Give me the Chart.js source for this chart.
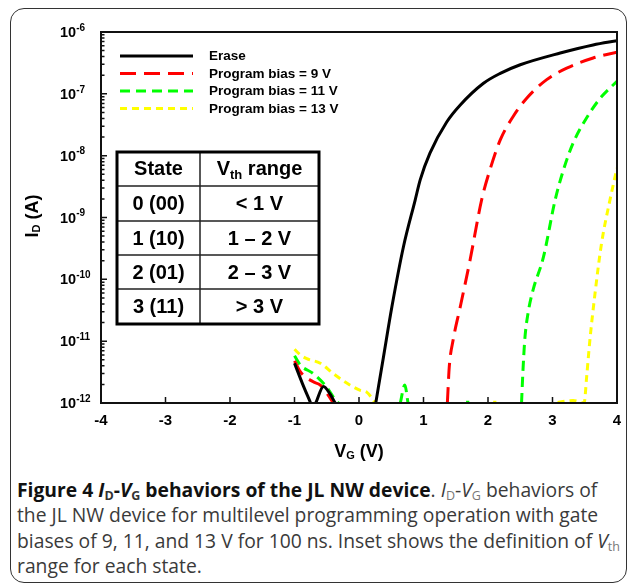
<!DOCTYPE html>
<html>
<head>
<meta charset="utf-8">
<script src="https://cdn.jsdelivr.net/npm/chart.js@4/dist/chart.umd.min.js"></script>
<style>
  body { margin: 0; background: #fff; width: 630px; height: 585px; overflow: hidden; position: relative; }
  #frame { position: absolute; left: 10px; top: 8px; width: 615px; height: 573px; border: 1.5px solid #333; border-radius: 14px; }
  #c { position: absolute; left: 0; top: 0; }
  #caption { position: absolute; left: 17px; top: 477px; font-family: "Open Sans", sans-serif; font-size: 19.3px;
             line-height: 25.3px; color: #3a3a3a; white-space: nowrap; }
  #caption b { color: #111; }
  #caption sub { font-size: 12.5px; line-height: 0; vertical-align: -3px; color: #777; }
  #caption b sub { color: #333; }
</style>
</head>
<body>
<div id="frame"></div>
<canvas id="c" width="630" height="470"></canvas>
<div id="caption"><b>Figure 4 <i>I</i><sub>D</sub>-<i>V</i><sub>G</sub> behaviors of the JL NW device</b>. <i>I</i><sub>D</sub>-<i>V</i><sub>G</sub> behaviors of<br>the JL NW device for multilevel programming operation with gate<br>biases of 9, 11, and 13 V for 100 ns. Inset shows the definition of <i>V</i><sub>th</sub><br>range for each state.</div>
<script>
// gate voltage (V) and drain current (A), null = gap in the trace
const eraseV = [-1.0, -0.88, -0.75, -0.71, -0.67, -0.55, -0.45, -0.37, 0, 0.26, 0.38, 0.51, 0.69, 0.87, 0.95, 1.10, 1.36, 1.57, 1.93, 2.19, 2.50, 3.12, 3.63, 4.0];
const eraseI = [4.4e-12, 2.1e-12, 1e-12, null, 1e-12, 1.85e-12, 1.4e-12, 1e-12, null, 1e-12, 5.6e-12, 3.6e-11, 3.4e-10, 1.9e-9, 4.1e-9, 1.1e-8, 3.5e-8, 6.6e-8, 1.48e-7, 2.14e-7, 2.95e-7, 4.57e-7, 6.17e-7, 7.24e-7];

const bias9V = [-1.0, -0.91, -0.71, -0.60, -0.48, -0.40, 0.5, 1.37, 1.40, 1.46, 1.57, 1.72, 1.90, 2.03, 2.19, 2.39, 2.60, 2.91, 3.22, 3.63, 4.0];
const bias9I = [4.8e-12, 3.2e-12, 2.2e-12, 1.95e-12, 1.35e-12, 1e-12, null, 1e-12, 3.9e-12, 1.05e-11, 3.6e-11, 2.0e-10, 1.9e-9, 5.9e-9, 1.8e-8, 4.3e-8, 8.5e-8, 1.7e-7, 2.6e-7, 3.8e-7, 4.7e-7];

const bias11V = [-1.0, -0.91, -0.71, -0.50, -0.40, -0.32, 0.2, 0.64, 0.71, 0.76, 1.2, 1.66, 1.71, 2.1, 2.52, 2.54, 2.57, 2.62, 2.70, 2.86, 3.04, 3.17, 3.32, 3.53, 3.74, 4.0];
const bias11I = [5.8e-12, 4.1e-12, 3.0e-12, 1.8e-12, 1.26e-12, 1e-12, null, 1e-12, 1.95e-12, 1e-12, null, 1.03e-12, 1.03e-12, null, 1e-12, 3.0e-12, 1.05e-11, 2.8e-11, 6.8e-11, 2.3e-10, 1.9e-9, 5.9e-9, 1.6e-8, 4.1e-8, 8.5e-8, 1.6e-7];

const bias13V = [-1.0, -0.91, -0.81, -0.60, -0.40, -0.19, 0.02, 0.12, 0.20, 0.25, 1.2, 2.08, 2.13, 2.6, 3.08, 3.2, 3.32, 3.42, 3.49, 3.53, 3.58, 3.66, 3.76, 3.89, 4.0];
const bias13I = [7.4e-12, 6.0e-12, 5.2e-12, 4.4e-12, 3.0e-12, 2.1e-12, 1.6e-12, 1.5e-12, 1.2e-12, 1e-12, null, 1.03e-12, 1.03e-12, null, 1.02e-12, 1.07e-12, 1.1e-12, 1.05e-12, 1e-12, 2.7e-12, 1.05e-11, 6.0e-11, 3.8e-10, 1.9e-9, 6.3e-9];

const seriesNames = ['Erase', 'Program bias = 9 V', 'Program bias = 11 V', 'Program bias = 13 V'];
const xTicks = [-4, -3, -2, -1, 0, 1, 2, 3, 4];
const yExponents = [-12, -11, -10, -9, -8, -7, -6];

const tableStates = ['0 (00)', '1 (10)', '2 (01)', '3 (11)'];
const tableRanges = ['< 1 V', '1 \u2013 2 V', '2 \u2013 3 V', '> 3 V'];

function pts(vs, is) {
  return vs.map((v, i) => ({ x: v, y: is[i] }));
}

function series(label, vs, is, color, dash) {
  return {
    label: label, data: pts(vs, is), borderColor: color, borderWidth: 3,
    borderDash: dash, borderCapStyle: 'butt', pointRadius: 0, fill: false,
    cubicInterpolationMode: 'monotone', spanGaps: false
  };
}

// draws text pieces [text, size, dy] one after another
function pieces(ctx, parts, x, y) {
  let cx = x;
  parts.forEach(p => {
    ctx.font = 'bold ' + p[1] + 'px Arial';
    ctx.fillText(p[0], cx, y + p[2]);
    cx += ctx.measureText(p[0]).width;
  });
}
function piecesWidth(ctx, parts) {
  let w = 0;
  parts.forEach(p => { ctx.font = 'bold ' + p[1] + 'px Arial'; w += ctx.measureText(p[0]).width; });
  return w;
}

const decor = {
  id: 'decor',
  afterDatasetsDraw(chart) {
    const { ctx, chartArea: a, scales: { x, y } } = chart;
    ctx.save();
    ctx.fillStyle = '#000';
    ctx.strokeStyle = '#111';

    // ticks pointing inwards
    ctx.lineWidth = 1.5;
    ctx.beginPath();
    xTicks.forEach(v => {
      const px = x.getPixelForValue(v);
      ctx.moveTo(px, a.bottom); ctx.lineTo(px, a.bottom - 6);
    });
    yExponents.forEach(e => {
      const py = y.getPixelForValue(Math.pow(10, e));
      ctx.moveTo(a.left, py); ctx.lineTo(a.left + 6, py);
      if (e < -6) {
        for (let m = 2; m <= 9; m++) {
          const pm = y.getPixelForValue(m * Math.pow(10, e));
          ctx.moveTo(a.left, pm); ctx.lineTo(a.left + 3.5, pm);
        }
      }
    });
    ctx.stroke();

    ctx.lineWidth = 2;
    ctx.strokeRect(a.left, a.top, a.right - a.left, a.bottom - a.top);

    // tick labels
    ctx.textBaseline = 'middle';
    ctx.textAlign = 'center';
    ctx.font = 'bold 15px Arial';
    xTicks.forEach(v => ctx.fillText(String(v), x.getPixelForValue(v), a.bottom + 18));
    ctx.textAlign = 'left';
    yExponents.forEach(e => {
      const py = y.getPixelForValue(Math.pow(10, e));
      pieces(ctx, [['10', 14.5, 1], [String(e), 10, -4]], a.left - 41, py);
    });

    // axis titles
    const xt = [['V', 18, 0], ['G', 11, 4], [' (V)', 18, 0]];
    pieces(ctx, xt, (a.left + a.right) / 2 - piecesWidth(ctx, xt) / 2, 452);
    const yt = [['I', 18, 0], ['D', 11, 4], [' (A)', 18, 0]];
    ctx.save();
    ctx.translate(33, 216);
    ctx.rotate(-Math.PI / 2);
    pieces(ctx, yt, -piecesWidth(ctx, yt) / 2, 0);
    ctx.restore();

    // legend inside the plot
    chart.data.datasets.forEach((ds, i) => {
      const ly = a.top + 24 + i * 17.5;
      ctx.strokeStyle = ds.borderColor;
      ctx.lineWidth = 3;
      ctx.setLineDash(ds.borderDash || []);
      ctx.beginPath(); ctx.moveTo(a.left + 19, ly); ctx.lineTo(a.left + 92, ly); ctx.stroke();
      ctx.setLineDash([]);
      ctx.font = 'bold 13.5px Arial';
      ctx.fillText(ds.label, a.left + 108, ly + 0.5);
    });

    // inset table
    const tl = 117, tt = 152, tr = 319, tb = 324, cdiv = 200;
    const rows = [tt, 186, 221, 255, 289, tb];
    ctx.fillStyle = '#fff';
    ctx.fillRect(tl, tt, tr - tl, tb - tt);
    ctx.strokeStyle = '#222';
    ctx.lineWidth = 1.5;
    ctx.beginPath();
    rows.slice(1, -1).forEach(r => { ctx.moveTo(tl, r); ctx.lineTo(tr, r); });
    ctx.moveTo(cdiv, tt); ctx.lineTo(cdiv, tb);
    ctx.stroke();
    ctx.strokeStyle = '#000';
    ctx.lineWidth = 3;
    ctx.strokeRect(tl, tt, tr - tl, tb - tt);

    ctx.fillStyle = '#000';
    ctx.textAlign = 'center';
    ctx.font = 'bold 20px Arial';
    const c1 = (tl + cdiv) / 2, c2 = (cdiv + tr) / 2;
    ctx.fillText('State', c1, (rows[0] + rows[1]) / 2);
    ctx.textAlign = 'left';
    const hd = [['V', 20, 0], ['th', 13, 6], [' range', 20, 0]];
    pieces(ctx, hd, c2 - piecesWidth(ctx, hd) / 2, (rows[0] + rows[1]) / 2);
    ctx.textAlign = 'center';
    ctx.font = 'bold 20px Arial';
    tableStates.forEach((s, i) => {
      const ry = (rows[i + 1] + rows[i + 2]) / 2 + 1;
      ctx.fillText(s, c1, ry);
      ctx.fillText(tableRanges[i], c2, ry);
    });
    ctx.restore();
  }
};

new Chart(document.getElementById('c').getContext('2d'), {
  type: 'line',
  data: {
    datasets: [
      series(seriesNames[0], eraseV, eraseI, '#000000', []),
      series(seriesNames[1], bias9V, bias9I, '#ff0000', [16, 8]),
      series(seriesNames[2], bias11V, bias11I, '#00ff00', [10, 6]),
      series(seriesNames[3], bias13V, bias13I, '#ffff00', [7, 5])
    ]
  },
  options: {
    responsive: false,
    animation: false,
    layout: { padding: { left: 101, right: 13, top: 32, bottom: 67 } },
    plugins: { legend: { display: false }, tooltip: { enabled: false } },
    scales: {
      x: { type: 'linear', min: -4, max: 4, display: false },
      y: { type: 'logarithmic', min: 1e-12, max: 1e-6, display: false }
    }
  },
  plugins: [decor]
});
</script>
</body>
</html>
